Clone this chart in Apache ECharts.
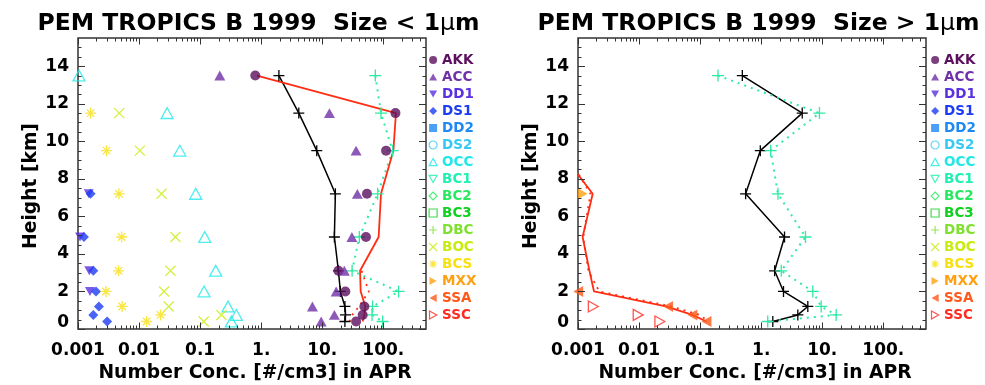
<!DOCTYPE html>
<html>
<head>
<meta charset="utf-8">
<script src="https://cdn.jsdelivr.net/npm/echarts@6/dist/echarts.min.js"></script>
<style>
  html, body { margin: 0; padding: 0; background: #fff; }
  #chart { width: 985px; height: 385px; }
</style>
</head>
<body>
<div id="chart"></div>
<script>
// Altitude bins (km) shared by every vertical profile
const heights = [13.5, 11.5, 9.5, 7.2, 4.9, 3.1, 2.0, 1.2, 0.75, 0.4];

// Species shown in the legend
const speciesNames = ['AKK', 'ACC', 'DD1', 'DS1', 'DD2', 'DS2', 'OCC', 'BC1',
                      'BC2', 'BC3', 'DBC', 'BOC', 'BCS', 'MXX', 'SSA', 'SSC'];

// Size < 1 um: number concentration [#/cm3] per bin (null = not plotted)
const akkFine = [0.8, 158, 111, 54, 52, 18.4, 23.9, 48.9, 45.9, 35.8];
const accFine = [0.21, 13.1, 35.8, 37.6, 30.6, 23.0, 16.9, 6.9, 15.8, 9.6];
const dd1Fine = [null, null, null, 0.0015, 0.00108, 0.00153, 0.00157, null, null, null];
const ds1Fine = [null, null, null, 0.00161, 0.00125, 0.00178, 0.00197, 0.0022, 0.00178, 0.0030];
const occFine = [0.00104, 0.0288, 0.0465, 0.0847, 0.119, 0.180, 0.116, 0.286, 0.392, 0.325];
const bocFine = [null, 0.00473, 0.0103, 0.0233, 0.0394, 0.0327, 0.0257, 0.0306, 0.223, 0.1146];
const bcsFine = [null, 0.00161, 0.00294, 0.00468, 0.00518, 0.00462, 0.00287, 0.00529, 0.0225, 0.0133];
const totalModelFine = [1.95, 4.13, 8.13, 16.4, 15.8, 18.4, 19.8, 23.5, 24.0, 23.5];
const totalObsFine   = [74, 91.6, 142, 80.7, 40.5, 30.8, 178, 66.8, 65.3, 97.5];
const redSolidFine   = [0.85, 161, 146, 91.6, 83.8, 41.6, 42.6, 50.8, 48.9, 45.9];
const redDottedFine  = [null, null, null, null, null, 44, 58, 40, 31, 28];

// Size > 1 um: number concentration [#/cm3] per bin
const mxxCoarse = [null, null, null, 0.00119, null, null, null, null, null, null];
const ssaCoarse = [null, null, null, null, null, null, 0.00101, 0.0299, 0.0748, 0.127];
const sscCoarse = [null, null, null, null, null, null, null, 0.00178, 0.00967, 0.0219];
const totalModelCoarse = [0.491, 4.70, 0.967, 0.556, 2.41, 1.66, 2.32, 5.80, 3.98, 1.55];
const totalObsCoarse   = [0.196, 9.0, 1.43, 1.88, 5.31, 2.13, 7.0, 9.6, 16.9, 1.28];
const redSolidCoarse   = [null, null, 0.0005, 0.00174, 0.00119, 0.00154, 0.00183, 0.0274, 0.0748, 0.127];
const redDottedCoarse  = [null, null, 0.0006, 0.0016, 0.00122, 0.00148, 0.00223, 0.034, 0.098, 0.138];

// Axis ticks and labels
const xTickValues = [0.001, 0.01, 0.1, 1, 10, 100];
const xTickLabels = ['0.001', '0.01', '0.1', '1.', '10.', '100.'];
const yTickValues = [0, 2, 4, 6, 8, 10, 12, 14];
const X_MIN = 0.001, X_MAX = 500, Y_MIN = 0, Y_MAX = 15.5;

// ---- styling ----
const FONT = 'DejaVu Sans';
const AXIS_COLOR = '#333';
const P = {
  up: 'path://M5,0L10,9L0,9Z',
  down: 'path://M0,0L10,0L5,9Z',
  right: 'path://M0,0L9,5L0,10Z',
  left: 'path://M9,0L0,5L9,10Z',
  plus: 'path://M5,0L5,10M0,5L10,5',
  cross: 'path://M0,0L10,10M10,0L0,10',
  star: 'path://M5,0L5,10M0,5L10,5M1.6,1.6L8.4,8.4M8.4,1.6L1.6,8.4'
};
const speciesStyle = {
  AKK: { color: '#5b0f5e', symbol: 'circle', filled: true, size: 10 },
  ACC: { color: '#7030a8', symbol: P.up, filled: true, size: 11 },
  DD1: { color: '#5a30e0', symbol: P.down, filled: true, size: 10 },
  DS1: { color: '#1c3cf4', symbol: 'diamond', filled: true, size: 10 },
  DD2: { color: '#1e88f4', symbol: 'rect', filled: true, size: 9 },
  DS2: { color: '#38c8f4', symbol: 'circle', filled: false, size: 10 },
  OCC: { color: '#20e8e8', symbol: P.up, filled: false, size: 12 },
  BC1: { color: '#20f0b0', symbol: P.down, filled: false, size: 11 },
  BC2: { color: '#28e860', symbol: 'diamond', filled: false, size: 11 },
  BC3: { color: '#10d020', symbol: 'rect', filled: false, size: 10 },
  DBC: { color: '#80e030', symbol: P.plus, filled: false, size: 11 },
  BOC: { color: '#c8ec10', symbol: P.cross, filled: false, size: 10 },
  BCS: { color: '#f8e010', symbol: P.star, filled: false, size: 11 },
  MXX: { color: '#ffa010', symbol: P.right, filled: true, size: 11 },
  SSA: { color: '#ff5818', symbol: P.left, filled: true, size: 11 },
  SSC: { color: '#ff2a20', symbol: P.right, filled: false, size: 11 }
};
const fineValues = { AKK: akkFine, ACC: accFine, DD1: dd1Fine, DS1: ds1Fine, OCC: occFine, BOC: bocFine, BCS: bcsFine };
const coarseValues = { MXX: mxxCoarse, SSA: ssaCoarse, SSC: sscCoarse };

function profile(values) {
  const pts = [];
  values.forEach((v, i) => { if (v != null) pts.push([v, heights[i]]); });
  return pts;
}

function itemStyleFor(st) {
  return st.filled
    ? { color: st.color, borderWidth: 0 }
    : { color: 'transparent', borderColor: st.color, borderWidth: 1.3 };
}

function speciesSeries(g, valueMap) {
  return speciesNames.map(name => {
    const st = speciesStyle[name];
    return {
      type: 'scatter', name, xAxisIndex: g, yAxisIndex: g, z: 4,
      data: valueMap[name] ? profile(valueMap[name]) : [],
      symbol: st.symbol, symbolSize: st.size, symbolKeepAspect: true,
      itemStyle: itemStyleFor(st),
      emphasis: { disabled: true }
    };
  });
}

function lineSeries(g, values, opts) {
  return Object.assign({
    type: 'line', xAxisIndex: g, yAxisIndex: g, z: 3,
    data: profile(values), symbol: 'none', emphasis: { disabled: true }
  }, opts);
}

// tick marks on all four sides of a panel
const xMinor = [];
for (let e = -3; e <= 2; e++) for (let m = 2; m <= 9; m++) {
  const v = m * Math.pow(10, e);
  if (v < X_MAX) xMinor.push(v);
}
const yMinor = [];
for (let v = 0.5; v < Y_MAX; v += 0.5) if (v % 2 !== 0) yMinor.push(v);

function tickSeries(g) {
  const items = [];
  xTickValues.forEach(v => items.push([v, 1, 0, 6.5]));
  xMinor.forEach(v => items.push([v, 1, 0, 3.5]));
  yTickValues.forEach(v => items.push([1, v, 1, 7]));
  yMinor.forEach(v => items.push([1, v, 1, 3.5]));
  return {
    type: 'custom', xAxisIndex: g, yAxisIndex: g, silent: true, clip: false, z: 5,
    data: items,
    renderItem(params, api) {
      const cs = params.coordSys;
      const kind = api.value(2), len = api.value(3);
      const style = { stroke: AXIS_COLOR, lineWidth: 1 };
      if (kind === 0) {
        const px = Math.round(api.coord([api.value(0), 1])[0]) + 0.5;
        const b = cs.y + cs.height, t = cs.y;
        return { type: 'group', children: [
          { type: 'line', shape: { x1: px, y1: b, x2: px, y2: b - len }, style },
          { type: 'line', shape: { x1: px, y1: t, x2: px, y2: t + len }, style }
        ] };
      }
      const py = Math.round(api.coord([1, api.value(1)])[1]) + 0.5;
      const l = cs.x, r = cs.x + cs.width;
      return { type: 'group', children: [
        { type: 'line', shape: { x1: l, y1: py, x2: l + len, y2: py }, style },
        { type: 'line', shape: { x1: r, y1: py, x2: r - len, y2: py }, style }
      ] };
    }
  };
}

const labelFont = { fontFamily: FONT, fontWeight: 'bold', fontSize: 17, color: '#000' };

function xAxisFor(g) {
  return {
    gridIndex: g, type: 'log', logBase: 10, min: X_MIN, max: X_MAX,
    axisLine: { show: false }, axisTick: { show: false }, splitLine: { show: false },
    axisLabel: Object.assign({
      margin: 13,
      formatter(v) {
        const i = xTickValues.findIndex(t => Math.abs(Math.log10(t) - Math.log10(v)) < 1e-6);
        return i >= 0 ? xTickLabels[i] : '';
      }
    }, labelFont)
  };
}

function yAxisFor(g) {
  return {
    gridIndex: g, type: 'value', min: Y_MIN, max: Y_MAX, interval: 2,
    axisLine: { show: false }, axisTick: { show: false }, splitLine: { show: false },
    axisLabel: Object.assign({
      margin: 9,
      formatter(v) {
        if (v === 0) return '{lift|0}';
        return yTickValues.indexOf(v) >= 0 ? String(v) : '';
      },
      rich: { lift: Object.assign({ padding: [0, 0, 12, 0] }, labelFont) }
    }, labelFont)
  };
}

const legendItems = speciesNames.map(name => {
  const st = speciesStyle[name];
  return {
    name, icon: st.symbol,
    itemStyle: st.filled
      ? { color: st.color, borderWidth: 0 }
      : { color: 'transparent', borderColor: st.color, borderWidth: 1.2 },
    textStyle: { color: st.color }
  };
});

function legendFor(left) {
  return {
    orient: 'vertical', left, top: 51.5, padding: 0, itemGap: 0,
    itemWidth: 8, itemHeight: 8, selectedMode: false, data: legendItems,
    textStyle: { fontFamily: FONT, fontWeight: 'bold', fontSize: 13.5, lineHeight: 17 }
  };
}

const gridBase = { top: 38, height: 291, width: 348, show: true,
                   borderColor: AXIS_COLOR, borderWidth: 1.5, backgroundColor: 'transparent' };

const blackLine = { name: 'model', symbol: P.plus, symbolSize: 11, symbolKeepAspect: true,
  itemStyle: { color: 'transparent', borderColor: '#000', borderWidth: 1.3 },
  lineStyle: { color: '#000', width: 1.5 } };
const mintLine = { name: 'observed', symbol: P.plus, symbolSize: 12, symbolKeepAspect: true,
  itemStyle: { color: 'transparent', borderColor: '#2eeaa4', borderWidth: 1.3 },
  lineStyle: { color: '#2eeaa4', width: 2, type: [2, 5] } };
const redSolid = { name: 'sea salt', lineStyle: { color: '#ff2e12', width: 1.8 } };
const redDotted = { name: 'sea salt (dotted)', lineStyle: { color: '#ff2e12', width: 1.8, type: [2, 5] } };

const titleFont = { fontFamily: FONT, fontWeight: 'bold', fontSize: 23.5, fill: '#000' };
const muRich = { m: { fontFamily: FONT, fontWeight: 'normal', fontSize: 23.5, fill: '#000' } };
const axisTitleFont = { fontFamily: FONT, fontWeight: 'bold', fontSize: 18.7, fill: '#000' };

function textEl(x, y, text, font, extra) {
  return Object.assign({
    type: 'text', x, y, silent: true,
    style: Object.assign({ text, align: 'center', verticalAlign: 'middle' }, font)
  }, extra || {});
}

const option = {
  animation: false,
  backgroundColor: '#fff',
  grid: [Object.assign({ left: 78 }, gridBase), Object.assign({ left: 578 }, gridBase)],
  xAxis: [xAxisFor(0), xAxisFor(1)],
  yAxis: [yAxisFor(0), yAxisFor(1)],
  legend: [legendFor(428.5), legendFor(930.5)],
  graphic: { elements: [
    textEl(258.5, 24, 'PEM TROPICS B 1999  Size < 1{m|\u03bc}m', titleFont),
    textEl(758.5, 24, 'PEM TROPICS B 1999  Size > 1{m|\u03bc}m', titleFont),
    textEl(255, 373.5, 'Number Conc. [#/cm3] in APR', axisTitleFont),
    textEl(755, 373.5, 'Number Conc. [#/cm3] in APR', axisTitleFont),
    textEl(31, 186, 'Height [km]', axisTitleFont, { rotation: Math.PI / 2 }),
    textEl(531, 186, 'Height [km]', axisTitleFont, { rotation: Math.PI / 2 })
  ].map(el => { if (el.style.text.indexOf('{m|') >= 0) el.style.rich = muRich; return el; }) },
  series: [].concat(
    lineSeries(0, totalModelFine, blackLine),
    lineSeries(0, totalObsFine, mintLine),
    lineSeries(0, redSolidFine, redSolid),
    lineSeries(0, redDottedFine, redDotted),
    speciesSeries(0, fineValues),
    tickSeries(0),
    lineSeries(1, totalModelCoarse, blackLine),
    lineSeries(1, totalObsCoarse, mintLine),
    lineSeries(1, redSolidCoarse, redSolid),
    lineSeries(1, redDottedCoarse, redDotted),
    speciesSeries(1, coarseValues),
    tickSeries(1)
  )
};

const chart = echarts.init(document.getElementById('chart'), null, { renderer: 'canvas' });
chart.setOption(option);
</script>
</body>
</html>
